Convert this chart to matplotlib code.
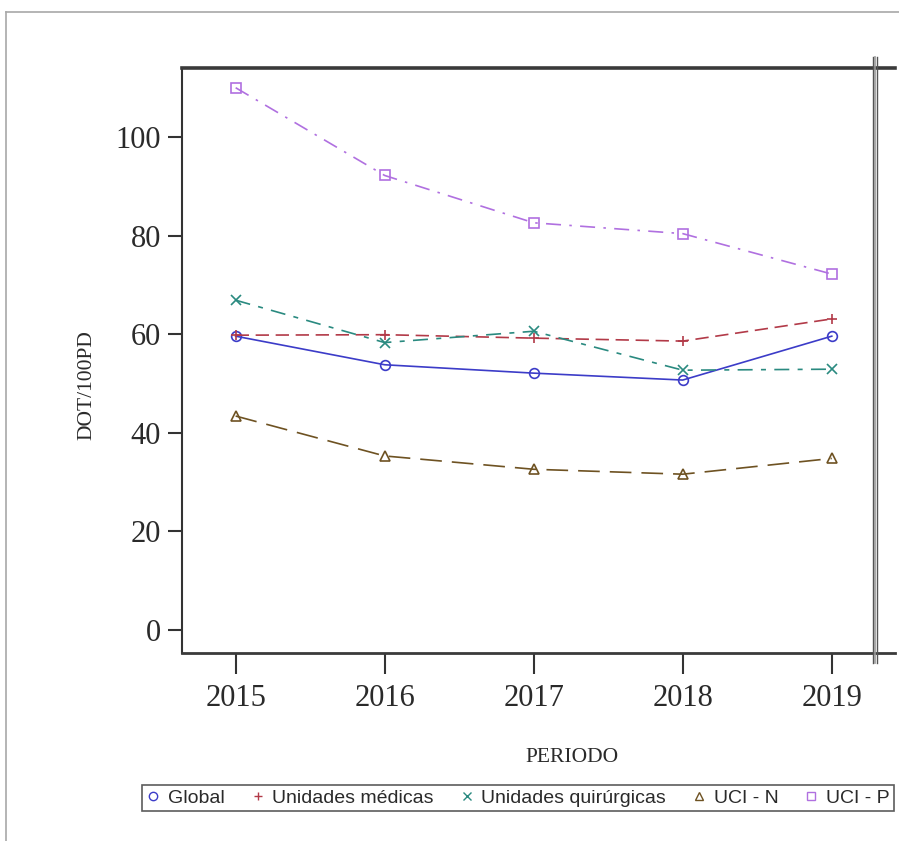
import matplotlib
matplotlib.use("Agg")
import matplotlib.pyplot as plt
from matplotlib.lines import Line2D

# Antibiotic consumption (DOT/100PD) by hospital area and year
years = [2015, 2016, 2017, 2018, 2019]
year_labels = ["2015", "2016", "2017", "2018", "2019"]
global_vals = [59.6, 53.8, 52.1, 50.7, 59.6]
medicas_vals = [59.8, 59.9, 59.2, 58.6, 63.1]
quirurgicas_vals = [66.9, 58.3, 60.6, 52.7, 52.9]
ucin_vals = [43.4, 35.3, 32.6, 31.6, 34.8]
ucip_vals = [110.0, 92.2, 82.6, 80.4, 72.2]
y_ticks = [0, 20, 40, 60, 80, 100]

series_names = ["Global", "Unidades médicas", "Unidades quirúrgicas", "UCI - N", "UCI - P"]

W, H = 899, 841
DPI = 100
fig = plt.figure(figsize=(W / DPI, H / DPI), dpi=DPI)
fig.patch.set_facecolor("white")


def fx(x):
    return x / W


def fy(y):
    return 1 - y / H


# outer frame of the output page
fig.add_artist(Line2D([fx(6), fx(6)], [fy(12), 0], color="#a8a8a8", lw=1.2))
fig.add_artist(Line2D([fx(6), 1], [fy(12), fy(12)], color="#a8a8a8", lw=1.2))

left, right, top, bottom = 182, 875, 68, 653
ax = fig.add_axes([fx(left), fy(bottom), (right - left) / W, (bottom - top) / H])

styles = [
    dict(color="#3c3cc8", marker="o", dashes=None),
    dict(color="#b23a48", marker="+", dashes=(8, 4)),
    dict(color="#2a8a80", marker="x", dashes=(9, 5, 3, 5)),
    dict(color="#6e5222", marker="^", dashes=(13, 6)),
    dict(color="#b070e0", marker="s", dashes=(9, 5, 1.5, 5)),
]
series = [global_vals, medicas_vals, quirurgicas_vals, ucin_vals, ucip_vals]

for vals, st in zip(series, styles):
    kw = dict(color=st["color"], lw=1.2, marker=st["marker"], markersize=7,
              markerfacecolor="none", markeredgecolor=st["color"], markeredgewidth=1.2)
    line, = ax.plot(years, vals, **kw)
    if st["dashes"] is not None:
        line.set_dashes(st["dashes"])

ax.set_xlim(2014.64, 2019.29)
ax.set_ylim(-4.67, 114.0)
ax.set_xticks(years)
ax.set_xticklabels(year_labels)
ax.set_yticks(y_ticks)
ax.set_yticklabels([str(t) for t in y_ticks])

serif = "Liberation Serif"
ax.tick_params(axis="y", direction="out", length=10, width=1.5, color="#333333",
               pad=5, labelsize=22, labelcolor="#2a2a2a")
ax.tick_params(axis="x", direction="out", length=15, width=1.5, color="#333333",
               pad=7, labelsize=22, labelcolor="#2a2a2a")
for lab in ax.get_xticklabels() + ax.get_yticklabels():
    lab.set_fontfamily(serif)

for side in ["top", "right", "bottom"]:
    ax.spines[side].set_visible(False)
ax.spines["left"].set_color("#333333")
ax.spines["left"].set_linewidth(1.5)

# heavy top and bottom rules running past the right border, double right border
fig.add_artist(Line2D([fx(left), fx(895)], [fy(68), fy(68)], color="#3a3a3a", lw=2.6))
fig.add_artist(Line2D([fx(left), fx(895)], [fy(653), fy(653)], color="#3a3a3a", lw=2.0))
fig.add_artist(Line2D([fx(873), fx(873)], [fy(57), fy(663)], color="#555555", lw=1.0))
fig.add_artist(Line2D([fx(876.5), fx(876.5)], [fy(57), fy(663)], color="#555555", lw=1.0))
fig.add_artist(Line2D([fx(874.7), fx(874.7)], [fy(57), fy(663)], color="#999999", lw=1.2))

fig.text(fx(572), fy(757), "PERIODO", family=serif, fontsize=15.5, color="#2a2a2a",
         ha="center", va="center")
fig.text(fx(87), fy(385), "DOT/100PD", family=serif, fontsize=15.5, color="#2a2a2a",
         ha="center", va="center", rotation=90)

handles = []
for name, st in zip(series_names, styles):
    handles.append(Line2D([], [], ls="none", marker=st["marker"], markersize=6,
                          markerfacecolor="none", markeredgecolor=st["color"],
                          markeredgewidth=1.0, label=name))
leg = fig.legend(handles=handles, loc="center", bbox_to_anchor=(fx(518), fy(798)),
                 ncol=5, frameon=True, fancybox=False, edgecolor="#333333",
                 handlelength=0.7, handletextpad=0.4, columnspacing=1.35,
                 borderpad=0.2, borderaxespad=0,
                 prop={"family": "Liberation Sans", "size": 14})
leg.get_frame().set_linewidth(1.2)
for t in leg.get_texts():
    t.set_color("#2a2a2a")

fig.savefig("out.png", dpi=DPI, facecolor="white")
